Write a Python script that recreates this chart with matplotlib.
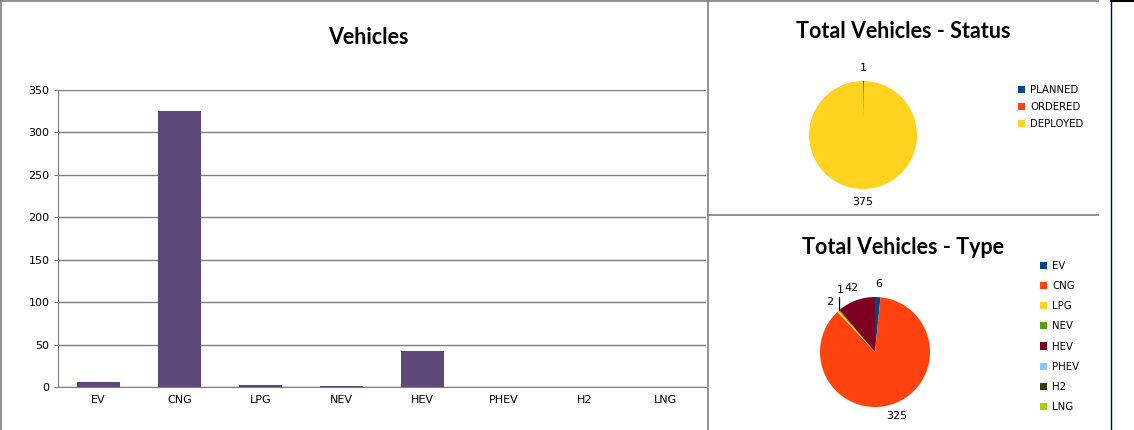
import matplotlib.pyplot as plt
from matplotlib.lines import Line2D
import numpy as np

# datos
tipos = ['EV', 'CNG', 'LPG', 'NEV', 'HEV', 'PHEV', 'H2', 'LNG']
vehiculos = [6, 325, 2, 1, 42, 0, 0, 0]

estados = ['PLANNED', 'ORDERED', 'DEPLOYED']
estado_valores = [1, 0, 375]

colores_tipo = ['#004586', '#ff420e', '#ffd320', '#579d1c',
                '#7e0021', '#83caff', '#314004', '#aecf00']
colores_estado = ['#004586', '#ff420e', '#ffd320']

W, H = 1134, 430
fig = plt.figure(figsize=(W / 100, H / 100), dpi=100)
plt.rcParams['font.family'] = 'DejaVu Sans'


def caja(x0, y0, x1, y1):
    # coordenadas en pixeles (y hacia abajo) -> fraccion de figura
    return [x0 / W, 1 - y1 / H, (x1 - x0) / W, (y1 - y0) / H]


gris = '#7f7f7f'

# ---- grafico de barras
ax = fig.add_axes(caja(58, 90, 706, 387))
x = np.arange(len(tipos))
ax.bar(x, vehiculos, width=0.52, color='#5f497a', zorder=3)
ax.set_xlim(-0.5, len(tipos) - 0.5)
ax.set_ylim(0, 350)
ax.set_yticks(range(0, 351, 50))
ax.set_xticks(x)
ax.set_xticklabels(tipos)
ax.yaxis.grid(True, color=gris, linewidth=1)
ax.set_axisbelow(True)
for s in ['top', 'right']:
    ax.spines[s].set_visible(False)
for s in ['left', 'bottom']:
    ax.spines[s].set_color(gris)
ax.tick_params(axis='y', length=3, color=gris, labelsize=8, pad=3)
ax.tick_params(axis='x', length=0, labelsize=8, pad=6)
fig.text(368 / W, 1 - 37 / H, 'Vehicles', ha='center', va='center',
         fontsize=15.5, fontweight='bold', family='Lato')

# ---- pie de estados
r1 = 54
ax1 = fig.add_axes(caja(863 - 1.5 * r1, 135 - 1.5 * r1, 863 + 1.5 * r1, 135 + 1.5 * r1))
etq1 = [str(v) if v else '' for v in estado_valores]
cunas1, textos1 = ax1.pie(estado_valores, labels=etq1, colors=colores_estado,
                          startangle=90, counterclock=False, labeldistance=1.24,
                          wedgeprops=dict(linewidth=0),
                          textprops=dict(fontsize=8))
for t in textos1:
    t.set_ha('center')
    t.set_va('center')
ax1.set_xlim(-1.5, 1.5)
ax1.set_ylim(-1.5, 1.5)
ax1.set_aspect('equal')
ax1.axis('off')
fig.text(903 / W, 1 - 32 / H, 'Total Vehicles - Status', ha='center', va='center',
         fontsize=15.5, fontweight='bold', family='Lato')
fig.legend(cunas1, estados, loc='upper left', bbox_to_anchor=(1018 / W, 1 - 85 / H),
           frameon=False, fontsize=7.3, handlelength=0.7, handleheight=0.7,
           handletextpad=0.5, labelspacing=0.7, borderaxespad=0, borderpad=0)

# ---- pie de tipos
r2 = 55
ax2 = fig.add_axes(caja(875 - 1.5 * r2, 352 - 1.5 * r2, 875 + 1.5 * r2, 352 + 1.5 * r2))
etq2 = [str(v) if v else '' for v in vehiculos]
cunas2, textos2 = ax2.pie(vehiculos, labels=etq2, colors=colores_tipo,
                          startangle=90, counterclock=False, labeldistance=1.23,
                          wedgeprops=dict(linewidth=0),
                          textprops=dict(fontsize=8))
for t in textos2:
    t.set_ha('center')
    t.set_va('center')
# etiqueta NEV desplazada con linea guia
i = tipos.index('NEV')
ang = np.deg2rad((cunas2[i].theta1 + cunas2[i].theta2) / 2)
bx, by = np.cos(ang), np.sin(ang)
textos2[i].set_position((bx + 0.03, by + 0.36))
ax2.plot([bx, bx], [by, by + 0.24], color='black', linewidth=0.9)
ax2.set_xlim(-1.5, 1.5)
ax2.set_ylim(-1.5, 1.5)
ax2.set_aspect('equal')
ax2.axis('off')
fig.text(903 / W, 1 - 247 / H, 'Total Vehicles - Type', ha='center', va='center',
         fontsize=15.5, fontweight='bold', family='Lato')
fig.legend(cunas2, tipos, loc='upper left', bbox_to_anchor=(1040 / W, 1 - 261 / H),
           frameon=False, fontsize=7.3, handlelength=0.7, handleheight=0.7,
           handletextpad=0.5, labelspacing=1.0, borderaxespad=0, borderpad=0)

# ---- bordes de paneles
def linea(x0, y0, x1, y1, color=gris, lw=1.2):
    fig.add_artist(Line2D([x0 / W, x1 / W], [1 - y0 / H, 1 - y1 / H],
                          color=color, linewidth=lw))

linea(0.5, 0.5, 1098, 0.5)
linea(1, 0, 1, 430)
linea(708, 0, 708, 430)
linea(708, 215, 1098, 215)
linea(1111, 1, 1111, 430, color='#000066', lw=1)
linea(1111, 0.5, 1134, 0.5, color='black', lw=1.5)

fig.savefig('out.png', dpi=100, facecolor='white')
